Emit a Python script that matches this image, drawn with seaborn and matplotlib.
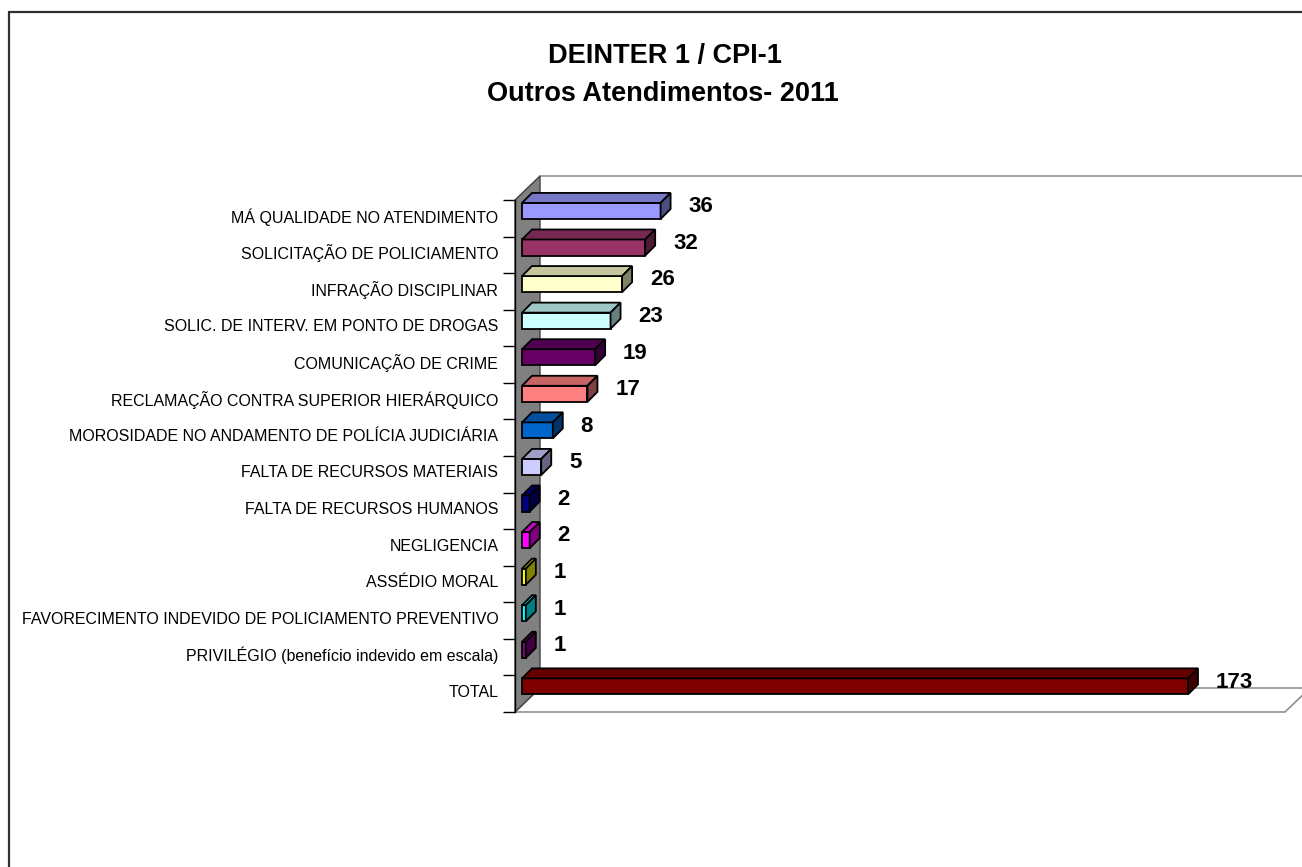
import numpy as np
import pandas as pd
import matplotlib
matplotlib.use("Agg")
import matplotlib.pyplot as plt
import seaborn as sns
from matplotlib.patches import Polygon
from matplotlib.lines import Line2D

# ---------------- data ----------------
categories = [
    "MÁ QUALIDADE NO ATENDIMENTO",
    "SOLICITAÇÃO DE POLICIAMENTO",
    "INFRAÇÃO DISCIPLINAR",
    "SOLIC. DE INTERV. EM PONTO DE DROGAS",
    "COMUNICAÇÃO DE CRIME",
    "RECLAMAÇÃO CONTRA SUPERIOR HIERÁRQUICO",
    "MOROSIDADE NO ANDAMENTO DE POLÍCIA JUDICIÁRIA",
    "FALTA DE RECURSOS MATERIAIS",
    "FALTA DE RECURSOS HUMANOS",
    "NEGLIGENCIA",
    "ASSÉDIO MORAL",
    "FAVORECIMENTO INDEVIDO DE POLICIAMENTO PREVENTIVO",
    "PRIVILÉGIO (benefício indevido em escala)",
    "TOTAL",
]
values = [36, 32, 26, 23, 19, 17, 8, 5, 2, 2, 1, 1, 1, 173]
bar_colors = ["#9999FF", "#993366", "#FFFFCC", "#CCFFFF", "#660066", "#FF8080",
              "#0066CC", "#CCCCFF", "#000080", "#FF00FF", "#FFFF00", "#00FFFF",
              "#800080", "#800000"]
title_lines = ["DEINTER 1 / CPI-1", "Outros Atendimentos- 2011"]

# ---------------- style ----------------
sns.set_style("white")
plt.rcParams['font.family'] = ['Liberation Sans', 'DejaVu Sans']
plt.rcParams['text.color'] = 'black'
plt.rcParams['axes.labelcolor'] = 'black'
plt.rcParams['xtick.color'] = 'black'
plt.rcParams['ytick.color'] = 'black'

W, H, DPI = 1302, 867, 100
fig = plt.figure(figsize=(W / DPI, H / DPI), dpi=DPI)
fig.patch.set_facecolor("white")

# front plane of the 3-D plot area
ax = fig.add_axes([515 / W, 1 - 712 / H, (1285 - 515) / W, (712 - 200) / H])
ax.patch.set_visible(False)

df = pd.DataFrame({"cat": categories, "val": values})
sns.barplot(data=df, y="cat", x="val", hue="cat", palette=bar_colors,
            orient="h", width=0.44, saturation=1, edgecolor="black",
            linewidth=1.3, legend=False, ax=ax, zorder=3)

n = len(categories)
ax.set_xlim(-7 / 3.85, 198.2)
ax.set_ylim(n - 0.30, -0.30)
xl, xr = ax.get_xlim()
yb, yt = ax.get_ylim()


def shift(pts, dx, dy):
    disp = ax.transData.transform(np.asarray(pts, dtype=float)) + np.array([dx, dy])
    return ax.transData.inverted().transform(disp)


# wall (left) and floor
WDX, WDY = 25, 24
front = np.array([[xl, yt], [xl, yb]])
back = shift(front, WDX, WDY)
wall = Polygon([front[0], front[1], back[1], back[0]], closed=True,
               facecolor="#808080", edgecolor="#404040", lw=1.0,
               clip_on=False, zorder=1)
ax.add_patch(wall)

ffront = np.array([[xl, yb], [xr, yb]])
fback = shift(ffront, WDX, WDY)
floor = Polygon([ffront[0], ffront[1], fback[1], fback[0]], closed=True,
                facecolor="white", edgecolor="#909090", lw=1.2,
                clip_on=False, zorder=0.5)
ax.add_patch(floor)

btop = shift([[xl, yt], [xr + 20, yt]], WDX, WDY)
ax.add_line(Line2D(btop[:, 0], btop[:, 1], color="#909090", lw=1.2,
                   clip_on=False, zorder=0.5))

# 3-D faces for each bar
BDX, BDY = 10, 10
for cont in ax.containers:
    for p in cont.patches:
        x0, y0 = p.get_x(), p.get_y()
        w, h = p.get_width(), p.get_height()
        rgb = np.array(p.get_facecolor()[:3])
        top_front = np.array([[x0, y0], [x0 + w, y0]])
        top_back = shift(top_front, BDX, BDY)
        ax.add_patch(Polygon([top_front[0], top_front[1], top_back[1], top_back[0]],
                             closed=True, facecolor=rgb * 0.78, edgecolor="black",
                             lw=1.3, zorder=3, clip_on=False))
        side_front = np.array([[x0 + w, y0], [x0 + w, y0 + h]])
        side_back = shift(side_front, BDX, BDY)
        ax.add_patch(Polygon([side_front[0], side_front[1], side_back[1], side_back[0]],
                             closed=True, facecolor=rgb * 0.5, edgecolor="black",
                             lw=1.3, zorder=3, clip_on=False))

# value labels
for cont, v in zip(ax.containers, values):
    p = cont.patches[0]
    ax.annotate(str(v), (p.get_x() + p.get_width(), p.get_y() + p.get_height() / 2),
                xytext=(20, 3), textcoords="offset points", ha="left", va="center",
                fontsize=16, fontweight="bold", color="black", zorder=5,
                annotation_clip=False)

# axes cosmetics
ax.set_yticks(np.arange(n) + 0.12, labels=categories)
ax.set_yticks(np.arange(n + 1) - 0.30, minor=True)
ax.tick_params(axis="y", which="major", length=0, pad=12, labelsize=11.5,
               labelcolor="black")
ax.tick_params(axis="y", which="minor", length=9, width=1.0, color="black",
               direction="out", left=True)
ax.set_xticks([])
ax.set_xlabel("")
ax.set_ylabel("")
for s in ["top", "right", "bottom"]:
    ax.spines[s].set_visible(False)
ax.spines["left"].set_visible(True)
ax.spines["left"].set_color("black")
ax.spines["left"].set_linewidth(1.0)
ax.spines["left"].set_zorder(2)

# title
fig.text(665 / W, 1 - 56 / H, title_lines[0], ha="center", va="center",
         fontsize=19.5, fontweight="bold", color="black")
fig.text(663 / W, 1 - 94 / H, title_lines[1], ha="center", va="center",
         fontsize=19.5, fontweight="bold", color="black")

# chart-area border (left and top visible)
fig.add_artist(Line2D([9 / W, 9 / W], [0, 1 - 12 / H], transform=fig.transFigure,
                      color="#303030", lw=1.6))
fig.add_artist(Line2D([9 / W, 1], [1 - 12 / H, 1 - 12 / H], transform=fig.transFigure,
                      color="#303030", lw=1.6))

fig.savefig("out.png", dpi=DPI)
